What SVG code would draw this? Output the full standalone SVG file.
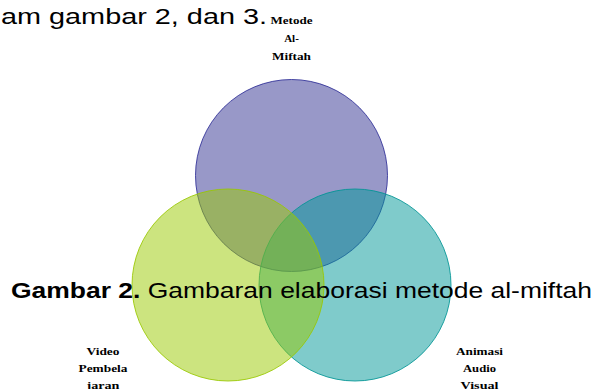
<svg xmlns="http://www.w3.org/2000/svg" width="595" height="389" viewBox="0 0 595 389">
<style>
.body{font-family:"Liberation Sans",Arial,sans-serif;font-size:22px;fill:#000}
.lbl{font-family:"Liberation Serif","Times New Roman",serif;font-size:11px;font-weight:bold;fill:#000;text-anchor:middle}
.c{stroke-width:1;fill-opacity:0.5;stroke-opacity:0.85}
</style>
<rect width="595" height="389" fill="#fff"/>
<text class="body" x="1" y="24" textLength="266" lengthAdjust="spacingAndGlyphs">am gambar 2, dan 3.</text>
<g id="node-top">
<circle class="c" cx="291.5" cy="175.5" r="96" fill="#313191" stroke="#2e2e96"/>
<text class="lbl" x="291.5" y="24" textLength="42" lengthAdjust="spacingAndGlyphs">Metode</text>
<text class="lbl" x="291.5" y="42">Al-</text>
<text class="lbl" x="291.5" y="59.5" textLength="39" lengthAdjust="spacingAndGlyphs">Miftah</text>
</g>
<g id="node-right">
<circle class="c" cx="355" cy="285" r="96" fill="#009797" stroke="#009494"/>
<text class="lbl" x="479.5" y="355" textLength="47" lengthAdjust="spacingAndGlyphs">Animasi</text>
<text class="lbl" x="479.5" y="372" textLength="33" lengthAdjust="spacingAndGlyphs">Audio</text>
<text class="lbl" x="479.5" y="389" textLength="38" lengthAdjust="spacingAndGlyphs">Visual</text>
</g>
<g id="node-left">
<circle class="c" cx="228" cy="285" r="96" fill="#99c900" stroke="#99c800"/>
<text class="lbl" x="103" y="355" textLength="33" lengthAdjust="spacingAndGlyphs">Video</text>
<text class="lbl" x="103" y="372" textLength="49" lengthAdjust="spacingAndGlyphs">Pembela</text>
<text class="lbl" x="103" y="389" textLength="33" lengthAdjust="spacingAndGlyphs">jaran</text>
</g>
<g id="connectors"></g>
<text class="body" x="11" y="298" textLength="581" lengthAdjust="spacingAndGlyphs"><tspan font-weight="bold">Gambar 2.</tspan> Gambaran elaborasi metode al-miftah</text>
</svg>
